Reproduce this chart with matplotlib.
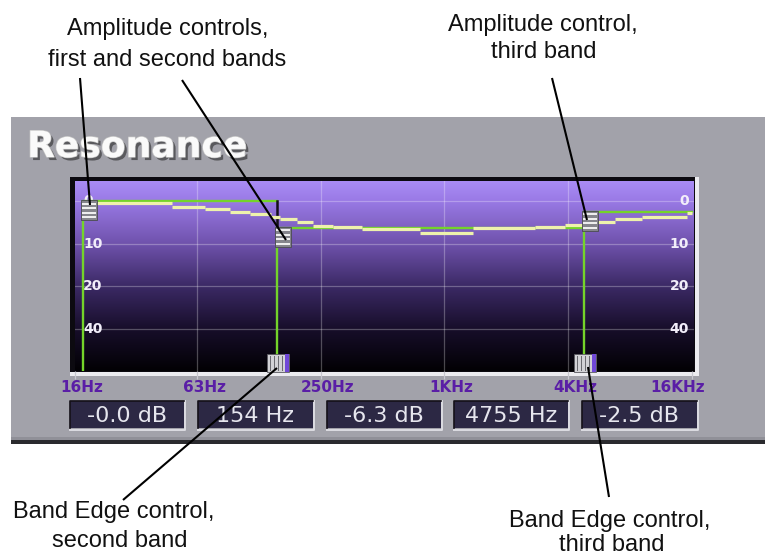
import numpy as np
import matplotlib
matplotlib.use("Agg")
import matplotlib.pyplot as plt
from matplotlib.colors import LinearSegmentedColormap
from matplotlib.patches import Rectangle
from matplotlib.ticker import NullLocator, FixedLocator
from matplotlib.transforms import (Affine2D, ScaledTranslation,
                                   blended_transform_factory, offset_copy)
import matplotlib.patheffects as pe

# ---------------- data ----------------
freq_ticks_hz = [16, 63, 250, 1000, 4000, 16000]
freq_tick_labels = ["16Hz", "63Hz", "250Hz", "1KHz", "4KHz", "16KHz"]
db_ticks = [0, 10, 20, 40]
db_tick_labels = ["0", "10", "20", "40"]

band_start_hz = [17.5, 154, 4755]
band_end_hz = [154, 4755, 16000]
band_gain_db = [-0.0, -6.3, -2.5]

smooth_edges_hz = [17.5, 47.4, 68.6, 90.7, 113, 143.6, 159, 192, 230, 287, 398,
                   762, 1378, 2759, 3859, 4755, 6757, 9141, 15120, 16000]
smooth_db = [-0.5, -1.3, -1.9, -2.5, -3.1, -3.8, -4.2, -4.9, -5.9, -6.2,
             -6.6, -7.5, -6.3, -6.1, -5.7, -4.9, -4.2, -3.7, -2.8]

title = "Resonance"
callout_top_left = ["Amplitude controls,", "first and second bands"]
callout_top_right = ["Amplitude control,", "third band"]
callout_bottom_left = ["Band Edge control,", "second band"]
callout_bottom_right = ["Band Edge control,", "third band"]

# ---------------- layout ----------------
W, H = 765, 558
fig = plt.figure(figsize=(W / 100, H / 100), dpi=100)
fig.patch.set_facecolor("white")


def ax_rect(l, t, r, b):
    return [l / W, 1 - b / H, (r - l) / W, (b - t) / H]


bg = fig.add_axes([0, 0, 1, 1], zorder=0)
bg.set_xlim(0, W)
bg.set_ylim(H, 0)
bg.axis("off")

# grey panel
bg.add_patch(Rectangle((11, 117), W - 11, 324, fc="#a2a2aa", ec="none"))
bg.add_patch(Rectangle((11, 437), W - 11, 4, fc="#909098", ec="none"))
bg.add_patch(Rectangle((11, 440), W - 11, 4, fc="#2a2a2e", ec="none"))
# plot frame
bg.add_patch(Rectangle((70, 177), 625, 195, fc="#0c0a10", ec="none"))
bg.add_patch(Rectangle((695, 177), 4, 199, fc="#ececf0", ec="none"))
bg.add_patch(Rectangle((70, 371.5), 629, 4, fc="#ececf0", ec="none"))

# title
bg.text(27, 157, title, fontsize=26, fontweight="bold", color="#fafafa",
        family="DejaVu Sans", va="baseline", ha="left",
        path_effects=[pe.withSimplePatchShadow(offset=(2, -2.2),
                                               shadow_rgbFace="#1e1e1e",
                                               alpha=0.55),
                      pe.Stroke(linewidth=1.0, foreground="#c4c4c4"),
                      pe.Normal()])

# ---------------- plot area ----------------
PL, PT, PR, PB = 75, 181, 694, 371
x16 = 75.0
px_per_dec = 617 / 3
y0 = 201.0
px_per_level = 42.67

gax = fig.add_axes(ax_rect(PL, PT, PR, PB), zorder=1)
grad = np.linspace(0, 1, 256).reshape(-1, 1)
cmap = LinearSegmentedColormap.from_list(
    "eq", [(0, "#a98cf5"), (0.1, "#9a7ae6"), (0.33, "#6f52ac"),
           (0.55, "#3c2a66"), (0.78, "#170e2a"), (1, "#020104")])
gax.imshow(grad, aspect="auto", cmap=cmap, extent=(0, 1, 0, 1))
gax.axis("off")

ax = fig.add_axes(ax_rect(PL, PT, PR, PB), zorder=2)
ax.set_facecolor("none")
ax.set_xscale("log")
ax.set_xlim(16 * 10 ** ((PL - x16) / px_per_dec), 16 * 10 ** ((PR - x16) / px_per_dec))
ax.set_ylim((PB - y0) / px_per_level, (PT - y0) / px_per_level)
for s in ax.spines.values():
    s.set_visible(False)


def level(db):
    return np.interp(-np.asarray(db, dtype=float), db_ticks,
                     np.arange(len(db_ticks)))


# grid
for f in freq_ticks_hz[1:-1]:
    ax.axvline(f, color="white", alpha=0.28, lw=0.9, zorder=1)
for lv in level([-d for d in db_ticks]):
    ax.axhline(lv, color="white", alpha=0.28, lw=0.9, zorder=1)

ax.xaxis.set_major_locator(FixedLocator(freq_ticks_hz))
ax.xaxis.set_minor_locator(NullLocator())
ax.tick_params(axis="x", direction="out", length=5.5, width=0.9,
               color="#c8c8d0", labelbottom=False)
ax.set_yticks([])

# frequency labels
lab_trans = blended_transform_factory(ax.transData, ax.transAxes)
for f, s in zip(freq_ticks_hz, freq_tick_labels):
    last = f == freq_ticks_hz[-1]
    t = offset_copy(lab_trans, fig=fig, x=13 if last else 7, y=-17, units="dots")
    ax.text(f, 0, s, transform=t, ha="right" if last else "center",
            va="center", fontsize=11, fontweight="bold", color="#5a1ea6",
            clip_on=False)

# level labels
yl_trans = blended_transform_factory(ax.transAxes, ax.transData)
tl = offset_copy(yl_trans, fig=fig, x=8, y=0, units="dots")
tr = offset_copy(yl_trans, fig=fig, x=-5, y=0, units="dots")
for d, s in zip(db_ticks, db_tick_labels):
    lv = level(-d)
    ax.text(0, lv, s, transform=tl, ha="left", va="center", fontsize=10,
            fontweight="bold", color="#f2eefa")
    ax.text(1, lv, s, transform=tr, ha="right", va="center", fontsize=10,
            fontweight="bold", color="#f2eefa")

# band response (green)
ybot = ax.get_ylim()[0]
green = "#74d42a"
for f0, f1, g in zip(band_start_hz, band_end_hz, band_gain_db):
    ax.plot([f0, f0, f1], [ybot, level(g), level(g)], color=green, lw=1.7,
            solid_joinstyle="miter", zorder=3)
ax.plot([band_end_hz[0]] * 2, [level(band_gain_db[0]), level(band_gain_db[1])],
        color="#141018", lw=1.8, zorder=3)

# smoothed response (pale yellow)
ax.hlines(level(smooth_db), smooth_edges_hz[:-1], smooth_edges_hz[1:],
          color="#eef2ac", lw=2.3, zorder=4, capstyle="butt")


# ---------------- handles ----------------
def anchored(x, y, trans):
    return Affine2D() + ScaledTranslation(x, y, trans)


for f, g in zip(band_start_hz, band_gain_db):
    t = anchored(f, level(g), ax.transData)
    fig.add_artist(Rectangle((-2, -19), 16, 20, fc="#85858c", ec="#4a4a50",
                             lw=0.6, transform=t, zorder=2.5))
    for yy in (-2.5, -7, -11.5, -16):
        fig.add_artist(Rectangle((-1, yy - 1), 14, 2, fc="#eeeeee", ec="none",
                                 transform=t, zorder=2.6))

edge_trans = blended_transform_factory(ax.transData, ax.transAxes)
for f in band_start_hz[1:]:
    t = anchored(f, 0, edge_trans)
    fig.add_artist(Rectangle((-10, -1), 22, 18, fc="#d2d2d6", ec="#5a5a60",
                             lw=0.6, transform=t, zorder=2.5))
    for xx in (-7, -3, 1, 5):
        fig.add_artist(Rectangle((xx, 0), 1.2, 15, fc="#6a6a70", ec="none",
                                 transform=t, zorder=2.6))
    fig.add_artist(Rectangle((8, -1), 4, 18, fc="#7048d8", ec="none",
                             transform=t, zorder=2.6))

# ---------------- readout boxes ----------------
readouts = [f"{band_gain_db[0]:.1f} dB", f"{band_start_hz[1]:.0f} Hz",
            f"{band_gain_db[1]:.1f} dB", f"{band_start_hz[2]:.0f} Hz",
            f"{band_gain_db[2]:.1f} dB"]
box_x = [(70, 184), (198, 313), (327, 441), (454, 568), (582, 697)]
for (x0, x1), s in zip(box_x, readouts):
    bg.add_patch(Rectangle((x0, 401), x1 - x0, 27, fc="#2c2844", ec="none"))
    bg.plot([x0, x1 + 1, x1 + 1], [429.5, 429.5, 401], color="#dcdce2", lw=1.4)
    bg.plot([x0, x0, x1], [428, 401, 401], color="#141018", lw=1.2)
    bg.text((x0 + x1) / 2, 415.5, s, ha="center", va="center", fontsize=16,
            color="#e6e6ee", family="DejaVu Sans")

# ---------------- callouts ----------------
ov = fig.add_axes([0, 0, 1, 1], zorder=3)
ov.set_xlim(0, W)
ov.set_ylim(H, 0)
ov.axis("off")

font = dict(family="Liberation Sans", fontsize=17, color="#111111",
            ha="center", va="baseline")
ov.text(168, 35, callout_top_left[0], **font)
ov.text(167, 66, callout_top_left[1], **font)
ov.text(543, 31, callout_top_right[0], **font)
ov.text(544, 58, callout_top_right[1], **font)
ov.text(114, 518, callout_bottom_left[0], **font)
ov.text(120, 547, callout_bottom_left[1], **font)
ov.text(610, 527, callout_bottom_right[0], **font)
ov.text(612, 551, callout_bottom_right[1], **font)

for (xa, ya), (xb, yb) in [((80, 78), (90, 205)), ((182, 80), (286, 240)),
                           ((552, 78), (587, 220)), ((277, 368), (123, 500)),
                           ((588, 367), (609, 497))]:
    ov.plot([xa, xb], [ya, yb], color="black", lw=1.5, solid_capstyle="butt")

fig.savefig("out.png", dpi=100)
